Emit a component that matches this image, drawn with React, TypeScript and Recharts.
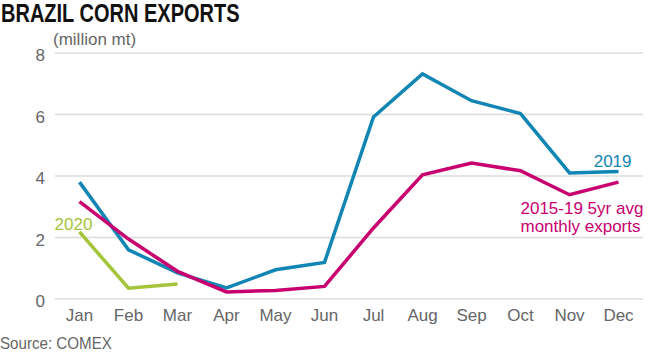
import { LineChart, Line, XAxis, YAxis, CartesianGrid, LabelList } from "recharts";

const months = ["Jan", "Feb", "Mar", "Apr", "May", "Jun", "Jul", "Aug", "Sep", "Oct", "Nov", "Dec"];
const exports2019 = [3.8, 1.6, 0.85, 0.36, 0.95, 1.19, 5.92, 7.32, 6.45, 6.03, 4.1, 4.15];
const avg5yr = [3.17, 1.95, 0.9, 0.23, 0.28, 0.41, 2.31, 4.04, 4.42, 4.17, 3.39, 3.8];
const exports2020 = [2.18, 0.35, 0.49, null, null, null, null, null, null, null, null, null];
const yTicks = [0, 2, 4, 6, 8];

const data = months.map((m, i) => ({
  month: m,
  y2019: exports2019[i],
  avg: avg5yr[i],
  y2020: exports2020[i],
}));

const BLUE = "#1185b3";
const MAGENTA = "#c8006f";
const GREEN = "#a4c43a";
const TEXT = "#666666";
const GRID = "#dcdcdc";
const FONT = "'Liberation Sans', Arial, sans-serif";

const label2019 = (p: any) =>
  p.index === 11 ? (
    <text x={p.x + 13} y={p.y - 4} textAnchor="end" fill={BLUE} fontSize={17} fontFamily={FONT}>
      2019
    </text>
  ) : null;

const labelAvg = (p: any) =>
  p.index === 11 ? (
    <text x={p.x - 98} y={p.y + 32} textAnchor="start" fill={MAGENTA} fontSize={17} fontFamily={FONT}>
      <tspan x={p.x - 98}>2015-19 5yr avg</tspan>
      <tspan x={p.x - 98} dy={18}>monthly exports</tspan>
    </text>
  ) : null;

const label2020 = (p: any) =>
  p.index === 0 ? (
    <text x={p.x - 6} y={p.y - 2} textAnchor="middle" fill={GREEN} fontSize={17} fontFamily={FONT}>
      2020
    </text>
  ) : null;

export default function App() {
  return (
    <div style={{ position: "absolute", left: 0, top: 0, width: 670, height: 353, background: "#fff", fontFamily: FONT }}>
      <div
        style={{
          position: "absolute",
          left: 1,
          top: 1,
          fontSize: 25,
          lineHeight: "25px",
          fontWeight: 700,
          color: "#111",
          whiteSpace: "nowrap",
          transform: "scaleX(0.8)",
          transformOrigin: "left top",
        }}
      >
        BRAZIL CORN EXPORTS
      </div>
      <div style={{ position: "absolute", left: 53, top: 30.5, fontSize: 17, lineHeight: "17px", color: TEXT, whiteSpace: "nowrap" }}>
        (million mt)
      </div>
      <div
        style={{
          position: "absolute",
          left: 0,
          top: 334.5,
          fontSize: 17,
          lineHeight: "17px",
          color: TEXT,
          whiteSpace: "nowrap",
          transform: "scaleX(0.89)",
          transformOrigin: "left top",
        }}
      >
        Source: COMEX
      </div>
      <LineChart width={670} height={353} data={data} margin={{ top: 53, right: 27, left: 0, bottom: 24 }}>
        <CartesianGrid vertical={false} stroke={GRID} strokeWidth={1.5} />
        <XAxis
          dataKey="month"
          axisLine={false}
          tickLine={false}
          padding={{ left: 24.5, right: 24.5 }}
          tick={{ fontSize: 17, fill: TEXT, fontFamily: FONT }}
          tickMargin={4}
        />
        <YAxis
          width={55}
          domain={[0, 8]}
          ticks={yTicks}
          axisLine={false}
          tickLine={false}
          tickMargin={4}
          tick={{ fontSize: 17, fill: TEXT, fontFamily: FONT, dy: 2 }}
        />
        <Line dataKey="y2019" stroke={BLUE} strokeWidth={3.5} dot={false} isAnimationActive={false}>
          <LabelList dataKey="y2019" content={label2019} />
        </Line>
        <Line dataKey="avg" stroke={MAGENTA} strokeWidth={3.5} dot={false} isAnimationActive={false}>
          <LabelList dataKey="avg" content={labelAvg} />
        </Line>
        <Line dataKey="y2020" stroke={GREEN} strokeWidth={3.5} dot={false} isAnimationActive={false}>
          <LabelList dataKey="y2020" content={label2020} />
        </Line>
      </LineChart>
    </div>
  );
}
